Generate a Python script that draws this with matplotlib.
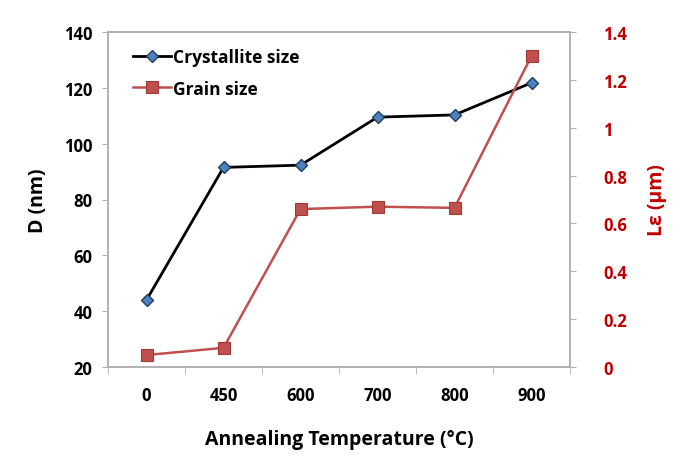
import matplotlib
matplotlib.use("Agg")
import matplotlib.pyplot as plt
import numpy as np

temps = ["0", "450", "600", "700", "800", "900"]
crystallite = [44, 91.5, 92.3, 109.5, 110.3, 121.8]
grain = [0.05, 0.08, 0.66, 0.67, 0.665, 1.30]

plt.rcParams["font.family"] = ["Open Sans", "DejaVu Sans"]
plt.rcParams["font.weight"] = "bold"

grey = "#b0b0b0"
dark_red = "#c00000"

fig = plt.figure(figsize=(6.74, 4.56), dpi=100)
ax = fig.add_axes([108 / 674, 1 - 368 / 456, 462 / 674, 335 / 456])
ax2 = ax.twinx()

x = np.arange(len(temps))
ln1, = ax.plot(x, crystallite, color="black", linewidth=2, marker="D", markersize=6,
               markerfacecolor="#4f81bd", markeredgecolor="#1f3f66", markeredgewidth=1)
ln2, = ax2.plot(x, grain, color="#c0504d", linewidth=1.8, marker="s", markersize=8,
                markerfacecolor="#c0504d", markeredgecolor="#a03a37", markeredgewidth=0.8)

ax.set_xlim(-0.5, len(temps) - 0.5)
ax.set_ylim(20, 140)
ax.set_yticks(range(20, 141, 20))
ax2.set_ylim(0, 1.4)
ax2.set_yticks(np.arange(0, 1.41, 0.2))
ax2.set_yticklabels(["0", "0.2", "0.4", "0.6", "0.8", "1", "1.2", "1.4"])

# category ticks sit between the temperatures, labels centred on them
ax.set_xticks(x)
ax.set_xticklabels(temps)
ax.set_xticks(np.arange(-0.5, len(temps), 1), minor=True)
ax.tick_params(axis="x", which="major", length=0, pad=14, labelsize=12)
ax.tick_params(axis="x", which="minor", length=5, color=grey, direction="out")
ax.tick_params(axis="y", length=4, color=grey, labelsize=12, pad=7)
ax2.tick_params(axis="y", length=4, color=grey, labelsize=12, labelcolor=dark_red, pad=20)

for a in (ax, ax2):
    for s in a.spines.values():
        s.set_color(grey)
        s.set_linewidth(1.2)

ax.set_xlabel("Annealing Temperature (°C)", fontsize=14, fontweight="bold", labelpad=18)
ax.set_ylabel("D (nm)", fontsize=14, fontweight="bold", labelpad=12)
ax2.set_ylabel("Lε (µm)", fontsize=14, fontweight="bold", color=dark_red, labelpad=14)

ax.legend([ln1, ln2], ["Crystallite size", "Grain size"], loc="upper left",
          bbox_to_anchor=(0.02, 1.0), frameon=False, fontsize=12.5,
          handlelength=2.2, handletextpad=0.1, labelspacing=0.8)

fig.savefig("out.png", dpi=100)
plt.close(fig)
